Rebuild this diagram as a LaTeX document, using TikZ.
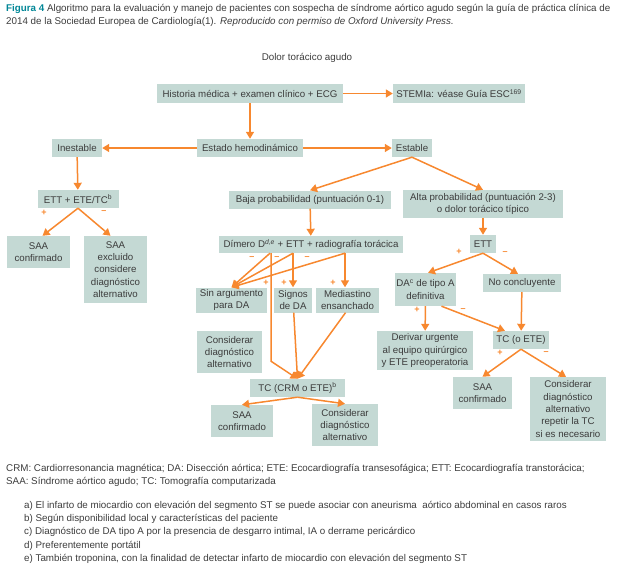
\documentclass[tikz,border=0pt]{standalone}
\usepackage{fontspec}
\setmainfont{Liberation Sans}
\usetikzlibrary{arrows.meta}
\definecolor{boxfill}{RGB}{196,217,212}
\definecolor{arrorange}{RGB}{247,136,47}
\definecolor{txtgray}{RGB}{60,60,60}
\definecolor{figteal}{RGB}{0,134,150}
\tikzset{
  box/.style={fill=boxfill, text=txtgray, inner sep=0pt, align=center, font=\fontsize{9.7}{12.3}\selectfont},
  arr/.style={draw=arrorange, line width=1.5pt, -{Triangle[width=8pt,length=7pt]}},
  sgn/.style={text=arrorange, font=\fontsize{9}{10}\selectfont\bfseries, inner sep=0pt},
  txt/.style={text=txtgray, inner sep=0pt, anchor=west, font=\fontsize{9.8}{11}\selectfont}
}
\begin{document}
\begin{tikzpicture}[x=1pt, y=-1pt]
			\useasboundingbox (0,0) rectangle (624,571);
			\node [txt] (cap1) at (6,9) {\textcolor{figteal}{\textbf{Figura 4}} Algoritmo para la evaluación y manejo de pacientes con sospecha de síndrome aórtico agudo según la guía de práctica clínica de};
			\node [txt] (cap2) at (6,22) {2014 de la Sociedad Europea de Cardiología(1). \textit{Reproducido con permiso de Oxford University Press.}};
			\node [txt, anchor=center] (dolor) at (307,58) {Dolor torácico agudo};
			\node [box, minimum width=186pt, minimum height=19pt] (hist) at (250,93.5) {Historia médica + examen clínico + ECG};
			\node [box, minimum width=132pt, minimum height=19pt] (stemi) at (459,93.5) {STEMIa: véase Guía ESC\textsuperscript{169}};
			\node [box, minimum width=106pt, minimum height=18pt] (estado) at (250,148) {Estado hemodinámico};
			\node [box, minimum width=50pt, minimum height=18pt] (inest) at (77,148) {Inestable};
			\node [box, minimum width=40pt, minimum height=18pt] (estab) at (412,148) {Estable};
			\node [box, minimum width=81pt, minimum height=18pt] (ettl) at (78,199) {ETT + ETE/TC\textsuperscript{b}};
			\node [box, minimum width=63pt, minimum height=32pt] (saa1) at (38.5,252) {SAA\\confirmado};
			\node [box, minimum width=63pt, minimum height=67pt] (saaex) at (115.5,269.5) {SAA\\excluido\\considere\\diagnóstico\\alternativo};
			\node [box, minimum width=162pt, minimum height=18pt] (baja) at (310,199.5) {Baja probabilidad (puntuación 0-1)};
			\node [box, minimum width=160pt, minimum height=28pt] (alta) at (483,204) {Alta probabilidad (puntuación 2-3)\\o dolor torácico típico};
			\node [box, minimum width=184pt, minimum height=17pt] (dim) at (311,244.5) {Dímero D\textsuperscript{\textit{d,e}} + ETT + radiografía torácica};
			\node [box, minimum width=26pt, minimum height=18pt] (ettr) at (483,244) {ETT};
			\node [box, minimum width=71pt, minimum height=25pt] (sinarg) at (231.5,300) {Sin argumento\\para DA};
			\node [box, minimum width=38pt, minimum height=25pt] (signos) at (293,300) {Signos\\de DA};
			\node [box, minimum width=63pt, minimum height=25pt] (medias) at (347.5,300) {Mediastino\\ensanchado};
			\node [box, minimum width=65pt, minimum height=42pt] (consl) at (229.5,352) {Considerar\\diagnóstico\\alternativo};
			\node [box, minimum width=95pt, minimum height=18pt] (tc) at (297.5,388) {TC (CRM o ETE)\textsuperscript{b}};
			\node [box, minimum width=62pt, minimum height=32pt] (saa2) at (242,421) {SAA\\confirmado};
			\node [box, minimum width=66pt, minimum height=42pt] (cons2) at (345,425) {Considerar\\diagnóstico\\alternativo};
			\node [box, minimum width=61pt, minimum height=33pt] (datipo) at (425.5,289.5) {DA\textsuperscript{c} de tipo A\\definitiva};
			\node [box, minimum width=78pt, minimum height=18pt] (nocon) at (522,283) {No concluyente};
			\node [box, minimum width=96pt, minimum height=39pt] (deriv) at (425,350.5) {Derivar urgente\\al equipo quirúrgico\\y ETE preoperatoria};
			\node [box, minimum width=56pt, minimum height=18pt] (tcr) at (521,340) {TC (o ETE)};
			\node [box, minimum width=59pt, minimum height=32pt] (saa3) at (482.5,393) {SAA\\confirmado};
			\node [box, minimum width=76pt, minimum height=64pt] (cons3) at (568,409) {Considerar\\diagnóstico\\alternativo\\repetir la TC\\si es necesario};
			\draw [arr] (hist) -- (estado);
			\draw [arr] (hist) -- (stemi);
			\draw [arr] (estado) -- (inest);
			\draw [arr] (estado) -- (estab);
			\draw [arr] (inest) -- (ettl);
			\draw [arr] (ettl.south) -- ([xshift=4pt]saa1.north);
			\draw [arr] (ettl.south) -- ([xshift=-5pt]saaex.north);
			\draw [arr] (estab.south) -- (baja.north);
			\draw [arr] (estab.south) -- (alta.north);
			\draw [arr] (baja) -- (dim);
			\draw [arr] (alta) -- (ettr);
			\draw [arr] ([xshift=-41pt]dim.south) -- (sinarg.north);
			\draw [arr] ([xshift=-18pt]dim.south) -- (sinarg.north);
			\draw [arr] ([xshift=34pt]dim.south) -- (sinarg.north);
			\draw [arr] ([xshift=-18pt]dim.south) -- (signos.north);
			\draw [arr] ([xshift=34pt]dim.south) -- ([xshift=-2.5pt]medias.north);
			\draw [arr] ([xshift=-40pt]dim.south) -- ++(0,108) -- (tc.north);
			\draw [arr] (signos) -- (tc.north);
			\draw [arr] ([xshift=-2pt]medias.south) -- (tc.north);
			\draw [arr] (tc.south) -- (saa2.north);
			\draw [arr] (tc.south) -- (cons2.north);
			\draw [arr] (ettr.south) -- ([xshift=2.5pt]datipo.north);
			\draw [arr] (ettr.south) -- ([xshift=-4pt]nocon.north);
			\draw [arr] (datipo) -- (deriv);
			\draw [arr] ([xshift=16pt]datipo.south) -- ([xshift=-16pt]tcr.north);
			\draw [arr] (nocon) -- (tcr);
			\draw [arr] (tcr.south) -- (saa3.north);
			\draw [arr] (tcr.south) -- ([xshift=-2pt]cons3.north);
			\node [sgn] (p1) at (44,213) {+};
			\node [sgn] (m1) at (104,212) {–};
			\node [sgn] (m2) at (252,258) {–};
			\node [sgn] (m3) at (277,258) {–};
			\node [sgn] (m4) at (307,258) {–};
			\node [sgn] (p2) at (266,283) {+};
			\node [sgn] (p3) at (284,283) {+};
			\node [sgn] (p4) at (333,283) {+};
			\node [sgn] (p5) at (459,252) {+};
			\node [sgn] (m5) at (505,253) {–};
			\node [sgn] (p6) at (417,310) {+};
			\node [sgn] (m6) at (463,310) {–};
			\node [sgn] (p7) at (500,353) {+};
			\node [sgn] (m7) at (546,353) {–};
			\node [txt] (abr1) at (6,469) {CRM: Cardiorresonancia magnética; DA: Disección aórtica; ETE: Ecocardiografía transesofágica; ETT: Ecocardiografía transtorácica;};
			\node [txt] (abr2) at (6,482) {SAA: Síndrome aórtico agudo; TC: Tomografía computarizada};
			\node [txt] (fa) at (24,506) {a) El infarto de miocardio con elevación del segmento ST se puede asociar con aneurisma\ \ aórtico abdominal en casos raros};
			\node [txt] (fb) at (24,519) {b) Según disponibilidad local y características del paciente};
			\node [txt] (fc) at (24,532) {c) Diagnóstico de DA tipo A por la presencia de desgarro intimal, IA o derrame pericárdico};
			\node [txt] (fd) at (24,546) {d) Preferentemente portátil};
			\node [txt] (fe) at (24,559) {e) También troponina, con la finalidad de detectar infarto de miocardio con elevación del segmento ST};
	\end{tikzpicture}
\end{document}
